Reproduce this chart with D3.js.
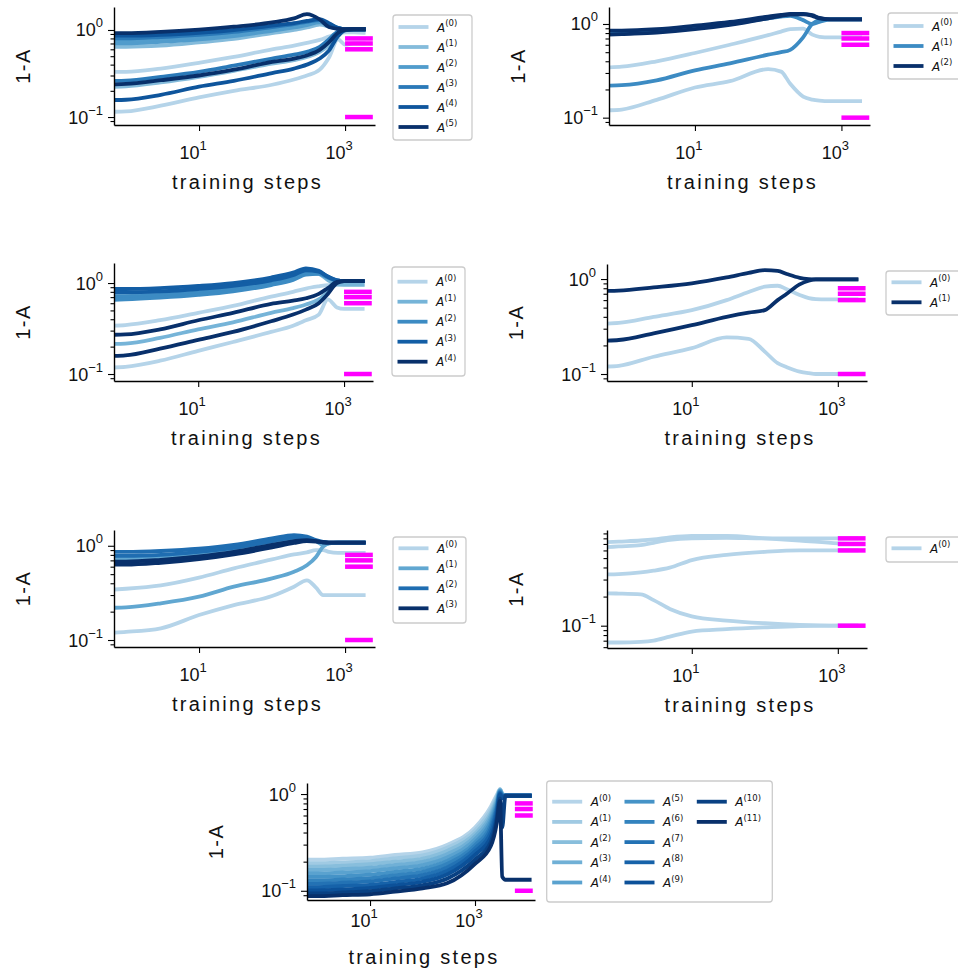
<!DOCTYPE html>
<html>
<head>
<meta charset="utf-8">
<script src="https://cdn.jsdelivr.net/npm/d3@7"></script>
<style>
  body { margin: 0; background: #fff; }
  svg text { font-family: "Liberation Sans", Arial, sans-serif; fill: #111; }
</style>
</head>
<body>
<svg width="958" height="975"></svg>
<script>
// target values (magenta marks) and their step span
const targets = [0.8, 0.7, 0.6, 0.1];
const targetSpan = [1000, 2400];
const targetSpan7 = [5750, 12600];
const xTicks = [10, 1000];

// step grids
const stepsA = [0.7, 1, 3, 10, 30, 100, 200, 300, 450, 600, 800, 1000, 1300, 1800];
const stepsB = [0.7, 1, 3, 10, 30, 100, 150, 200, 300, 400, 500, 700, 1000, 1800];
const stepsC = [0.7, 1, 3, 10, 30, 60, 100, 150, 200, 300, 400, 500, 700, 1000, 1800];
const stepsD = [0.7, 1, 3, 10, 30, 100, 200, 300, 400, 500, 600, 800, 1000, 1800];
const stepsE = [0.7, 1, 2, 3, 5, 10, 30, 100, 300, 1000, 1800];
const stepsF = [0.65, 1, 3, 10, 30, 100, 300, 1000, 2000, 2600, 3000, 3300, 3800, 5000, 11000];

// panel 1 (6 matrices)
const p1A0 = [[0.33, 0.33, 0.36, 0.42, 0.49, 0.60, 0.66, 0.71, 0.77, 0.84, 0.91, 0.94, 0.94, 0.93],
              [0.115, 0.116, 0.135, 0.168, 0.20, 0.235, 0.27, 0.30, 0.35, 0.48, 0.78, 0.68, 0.70, 0.70]];
const p1A1 = [[0.223, 0.225, 0.25, 0.29, 0.34, 0.41, 0.45, 0.49, 0.56, 0.67, 0.90, 1.0, 1.02, 1.02],
              [0.64, 0.64, 0.66, 0.72, 0.79, 0.92, 1.0, 1.07, 1.15, 1.10, 1.04, 1.02, 1.02, 1.02]];
const p1A2 = [[0.70, 0.70, 0.73, 0.78, 0.85, 0.98, 1.07, 1.14, 1.22, 1.14, 1.05, 1.02, 1.02, 1.02],
              [0.75, 0.75, 0.78, 0.83, 0.90, 1.03, 1.12, 1.20, 1.27, 1.16, 1.05, 1.02, 1.02, 1.02]];
const p1A3 = [[0.26, 0.262, 0.29, 0.33, 0.39, 0.47, 0.52, 0.56, 0.64, 0.78, 0.96, 1.01, 1.02, 1.02],
              [0.80, 0.80, 0.83, 0.88, 0.95, 1.08, 1.17, 1.24, 1.30, 1.18, 1.05, 1.02, 1.02, 1.02]];
const p1A4 = [[0.157, 0.158, 0.18, 0.223, 0.26, 0.32, 0.36, 0.40, 0.47, 0.58, 0.85, 0.99, 1.02, 1.02],
              [0.86, 0.86, 0.88, 0.93, 1.0, 1.12, 1.20, 1.27, 1.33, 1.20, 1.06, 1.02, 1.02, 1.02]];
const p1A5 = [[0.237, 0.24, 0.265, 0.30, 0.35, 0.43, 0.47, 0.51, 0.59, 0.72, 0.93, 1.0, 1.02, 1.02],
              [0.92, 0.92, 0.95, 1.01, 1.09, 1.22, 1.36, 1.52, 1.32, 1.08, 1.03, 1.02, 1.02, 1.02]];

// panel 2 (3 matrices)
const p2A0 = [[0.345, 0.35, 0.40, 0.49, 0.60, 0.76, 0.83, 0.88, 0.89, 0.77, 0.73, 0.72, 0.72, 0.72],
              [0.12, 0.122, 0.155, 0.21, 0.245, 0.33, 0.31, 0.23, 0.168, 0.156, 0.152, 0.15, 0.15, 0.15]];
const p2A1 = [[0.22, 0.222, 0.25, 0.32, 0.38, 0.47, 0.50, 0.53, 0.72, 1.0, 1.10, 1.12, 1.12, 1.12],
              [0.80, 0.80, 0.83, 0.90, 1.0, 1.15, 1.20, 1.22, 1.10, 1.0, 1.05, 1.12, 1.12, 1.12]];
const p2A2 = [[0.85, 0.85, 0.88, 0.96, 1.05, 1.20, 1.25, 1.28, 1.28, 1.22, 1.15, 1.12, 1.12, 1.12],
              [0.77, 0.78, 0.81, 0.88, 0.98, 1.15, 1.22, 1.26, 1.27, 1.24, 1.16, 1.12, 1.12, 1.12]];

// panel 3 (5 matrices)
const p3A0 = [[0.34, 0.345, 0.39, 0.47, 0.56, 0.71, 0.80, 0.87, 0.92, 0.95, 0.95, 0.95, 0.95, 0.95],
              [0.118, 0.12, 0.14, 0.18, 0.225, 0.29, 0.34, 0.39, 0.45, 0.66, 0.54, 0.52, 0.52, 0.52]];
const p3A1 = [[0.214, 0.216, 0.25, 0.31, 0.37, 0.47, 0.53, 0.58, 0.66, 0.80, 1.02, 1.05, 1.05, 1.05],
              [0.75, 0.75, 0.77, 0.82, 0.89, 1.03, 1.16, 1.30, 1.26, 1.08, 0.97, 0.96, 0.96, 0.96]];
const p3A2 = [[0.71, 0.71, 0.74, 0.79, 0.86, 1.0, 1.14, 1.30, 1.30, 1.16, 1.06, 1.05, 1.05, 1.05],
              [0.655, 0.66, 0.69, 0.74, 0.81, 0.95, 1.08, 1.24, 1.26, 1.15, 1.06, 1.05, 1.05, 1.05]];
const p3A3 = [[0.86, 0.86, 0.88, 0.93, 1.0, 1.15, 1.30, 1.45, 1.36, 1.18, 1.07, 1.05, 1.05, 1.05],
              [0.79, 0.79, 0.81, 0.86, 0.93, 1.07, 1.22, 1.38, 1.33, 1.17, 1.07, 1.05, 1.05, 1.05]];
const p3A4 = [[0.27, 0.272, 0.31, 0.39, 0.47, 0.59, 0.64, 0.68, 0.76, 0.88, 1.03, 1.05, 1.05, 1.05],
              [0.158, 0.16, 0.19, 0.237, 0.29, 0.38, 0.45, 0.51, 0.60, 0.76, 1.0, 1.05, 1.05, 1.05]];

// panel 4 (2 matrices)
const p4A0 = [[0.34, 0.345, 0.40, 0.47, 0.60, 0.73, 0.83, 0.85, 0.78, 0.68, 0.63, 0.615, 0.61, 0.61, 0.61],
              [0.12, 0.122, 0.152, 0.187, 0.243, 0.235, 0.172, 0.13, 0.118, 0.106, 0.102, 0.10, 0.10, 0.10, 0.10]];
const p4A1 = [[0.75, 0.755, 0.815, 0.90, 1.04, 1.16, 1.24, 1.22, 1.13, 1.03, 1.0, 0.99, 0.99, 0.99, 0.99],
              [0.225, 0.228, 0.268, 0.327, 0.40, 0.443, 0.47, 0.60, 0.70, 0.88, 0.96, 0.99, 0.99, 0.99, 0.99]];

// panel 5 (4 matrices)
const p5A0 = [[0.344, 0.35, 0.38, 0.46, 0.575, 0.716, 0.81, 0.85, 0.90, 0.90, 0.86, 0.84, 0.84, 0.84],
              [0.12, 0.122, 0.133, 0.184, 0.235, 0.293, 0.368, 0.43, 0.36, 0.30, 0.30, 0.30, 0.30, 0.30]];
const p5A1 = [[0.22, 0.222, 0.245, 0.288, 0.368, 0.45, 0.53, 0.62, 0.76, 0.98, 1.06, 1.08, 1.08, 1.08],
              [0.73, 0.73, 0.75, 0.80, 0.90, 1.08, 1.20, 1.22, 1.12, 1.02, 1.06, 1.08, 1.08, 1.08]];
const p5A2 = [[0.86, 0.86, 0.88, 0.93, 1.02, 1.20, 1.30, 1.25, 1.15, 1.10, 1.08, 1.08, 1.08, 1.08],
              [0.78, 0.78, 0.80, 0.86, 0.95, 1.12, 1.22, 1.20, 1.13, 1.09, 1.08, 1.08, 1.08, 1.08]];
const p5A3 = [[0.68, 0.68, 0.71, 0.77, 0.86, 1.02, 1.12, 1.15, 1.12, 1.09, 1.08, 1.08, 1.08, 1.08],
              [0.63, 0.63, 0.66, 0.72, 0.81, 0.96, 1.07, 1.12, 1.11, 1.09, 1.08, 1.08, 1.08, 1.08]];

// panel 6 (1 matrix, 5 values)
const p6A0 = [[0.73, 0.74, 0.76, 0.78, 0.82, 0.85, 0.85, 0.80, 0.76, 0.71, 0.70],
              [0.65, 0.66, 0.68, 0.72, 0.77, 0.80, 0.81, 0.80, 0.80, 0.80, 0.80],
              [0.34, 0.342, 0.355, 0.37, 0.398, 0.477, 0.54, 0.58, 0.60, 0.60, 0.60],
              [0.216, 0.215, 0.211, 0.184, 0.149, 0.125, 0.113, 0.106, 0.102, 0.10, 0.10],
              [0.067, 0.067, 0.068, 0.070, 0.077, 0.087, 0.092, 0.096, 0.099, 0.10, 0.10]];

// panel 7 (12 matrices)
const p7A0  = [[0.21, 0.21, 0.215, 0.22, 0.235, 0.25, 0.30, 0.45, 0.74, 0.98, 1.12, 1.02, 0.96, 0.96, 0.96]];
const p7A1  = [[0.193, 0.193, 0.197, 0.203, 0.217, 0.232, 0.28, 0.42, 0.69, 0.94, 1.12, 1.01, 0.96, 0.96, 0.96]];
const p7A2  = [[0.178, 0.178, 0.182, 0.188, 0.20, 0.215, 0.26, 0.39, 0.64, 0.90, 1.11, 1.0, 0.96, 0.96, 0.96]];
const p7A3  = [[0.164, 0.164, 0.168, 0.173, 0.185, 0.199, 0.24, 0.365, 0.60, 0.86, 1.10, 0.99, 0.96, 0.96, 0.96]];
const p7A4  = [[0.151, 0.151, 0.155, 0.16, 0.171, 0.184, 0.222, 0.34, 0.56, 0.82, 1.09, 0.99, 0.96, 0.96, 0.96]];
const p7A5  = [[0.139, 0.139, 0.142, 0.147, 0.157, 0.17, 0.205, 0.315, 0.52, 0.78, 1.08, 0.98, 0.96, 0.96, 0.96]];
const p7A6  = [[0.128, 0.128, 0.131, 0.135, 0.145, 0.157, 0.19, 0.295, 0.48, 0.74, 1.06, 0.97, 0.96, 0.96, 0.96]];
const p7A7  = [[0.118, 0.118, 0.121, 0.125, 0.134, 0.145, 0.175, 0.275, 0.44, 0.70, 1.04, 0.96, 0.96, 0.96, 0.96]];
const p7A8  = [[0.109, 0.109, 0.112, 0.115, 0.123, 0.134, 0.161, 0.255, 0.40, 0.66, 1.02, 0.95, 0.96, 0.96, 0.96]];
const p7A9  = [[0.101, 0.101, 0.103, 0.107, 0.114, 0.124, 0.148, 0.235, 0.36, 0.60, 1.0, 0.90, 0.96, 0.96, 0.96]];
const p7A10 = [[0.094, 0.094, 0.096, 0.099, 0.106, 0.114, 0.134, 0.21, 0.32, 0.55, 0.90, 0.45, 0.96, 0.96, 0.96]];
const p7A11 = [[0.088, 0.088, 0.09, 0.092, 0.098, 0.106, 0.12, 0.19, 0.29, 0.50, 0.85, 0.14, 0.13, 0.13, 0.13]];

// layout of each axes box
const panels = [
  {l: 114, r: 375, t: 7, b: 125, xd: [0.685, 2570], yd: [0.081, 1.837], steps: stepsA,
   series: [p1A0, p1A1, p1A2, p1A3, p1A4, p1A5], span: targetSpan,
   legend: {x: 393, y: 15, w: 79, h: 125, row0: 27, dy: 20, perCol: 6, colW: 0}, tickOff: 34},
  {l: 609, r: 870, t: 7, b: 125, xd: [0.671, 2455], yd: [0.0835, 1.518], steps: stepsB,
   series: [p2A0, p2A1, p2A2], span: targetSpan,
   legend: {x: 888, y: 13, w: 80, h: 66, row0: 26, dy: 20, perCol: 6, colW: 0}, tickOff: 34},
  {l: 114, r: 373, t: 263, b: 381, xd: [0.7, 2495], yd: [0.0838, 1.66], steps: stepsA,
   series: [p3A0, p3A1, p3A2, p3A3, p3A4], span: targetSpan,
   legend: {x: 392, y: 267, w: 73, h: 109, row0: 281.7, dy: 20, perCol: 6, colW: 0}, tickOff: 34},
  {l: 607, r: 867, t: 264, b: 381, xd: [0.69, 2510], yd: [0.0844, 1.44], steps: stepsC,
   series: [p4A0, p4A1], span: targetSpan,
   legend: {x: 886, y: 271, w: 80, h: 44, row0: 282.3, dy: 20, perCol: 6, colW: 0}, tickOff: 34},
  {l: 114, r: 375, t: 530, b: 647, xd: [0.685, 2570], yd: [0.0843, 1.47], steps: stepsD,
   series: [p5A0, p5A1, p5A2, p5A3], span: targetSpan,
   legend: {x: 393, y: 537, w: 73, h: 86, row0: 548.3, dy: 20, perCol: 6, colW: 0}, tickOff: 34},
  {l: 607, r: 867, t: 530, b: 648, xd: [0.69, 2510], yd: [0.0588, 0.976], steps: stepsE,
   series: [p6A0], span: targetSpan,
   legend: {x: 886, y: 537, w: 80, h: 25, row0: 548.3, dy: 20, perCol: 6, colW: 0}, tickOff: 34},
  {l: 307, r: 535, t: 783, b: 900, xd: [0.63, 13900], yd: [0.0803, 1.30], steps: stepsF,
   series: [p7A0, p7A1, p7A2, p7A3, p7A4, p7A5, p7A6, p7A7, p7A8, p7A9, p7A10, p7A11], span: targetSpan7,
   legend: {x: 546.7, y: 781, w: 225.6, h: 121, row0: 801.7, dy: 20.2, perCol: 5, colW: 72.3}, tickOff: 27}
];

const svg = d3.select("svg");
const blue = (k, n) => d3.interpolateBlues(n === 1 ? 0.3 : 0.3 + 0.7 * k / (n - 1));
const supExp = e => (e < 0 ? "\u2212" : "") + Math.abs(e);

panels.forEach((p, pi) => {
  const x = d3.scaleLog().domain(p.xd).range([p.l, p.r]);
  const y = d3.scaleLog().domain(p.yd).range([p.b, p.t]);
  const g = svg.append("g");

  g.append("clipPath").attr("id", "clip" + pi)
    .append("rect").attr("x", p.l).attr("y", p.t).attr("width", p.r - p.l).attr("height", p.b - p.t);

  const line = d3.line()
    .x((d, i) => x(p.steps[i]))
    .y(d => y(d))
    .curve(d3.curveMonotoneX);

  const lines = g.append("g").attr("clip-path", `url(#clip${pi})`);
  const n = p.series.length;
  p.series.forEach((curves, k) => {
    curves.forEach(c => {
      lines.append("path")
        .attr("d", line(c))
        .attr("fill", "none")
        .attr("stroke", blue(k, n))
        .attr("stroke-width", 3.8)
        .attr("stroke-linejoin", "round")
        .attr("stroke-linecap", "square");
    });
  });

  // target marks
  targets.forEach(v => {
    g.append("line")
      .attr("x1", x(p.span[0])).attr("x2", x(p.span[1]))
      .attr("y1", y(v)).attr("y2", y(v))
      .attr("stroke", "#ff00ff").attr("stroke-width", 4.5);
  });

  // y ticks (major + minor)
  const yMajor = [], yMinor = [];
  for (let e = Math.floor(Math.log10(p.yd[0])); e <= Math.ceil(Math.log10(p.yd[1])); e++) {
    for (let m = 1; m <= 9; m++) {
      const v = m * Math.pow(10, e);
      if (v >= p.yd[0] && v <= p.yd[1]) (m === 1 ? yMajor : yMinor).push(v);
    }
  }

  g.append("g").attr("transform", `translate(${p.l},0)`)
    .call(d3.axisLeft(y).tickValues(yMinor).tickSize(3.5).tickFormat(""))
    .call(a => a.select(".domain").remove())
    .call(a => a.selectAll("line").attr("stroke", "#000").attr("stroke-width", 1.1));
  g.append("g").attr("transform", `translate(${p.l},0)`)
    .call(d3.axisLeft(y).tickValues(yMajor).tickSize(6).tickSizeOuter(0).tickFormat(""))
    .call(a => a.select(".domain").attr("stroke", "#000").attr("stroke-width", 1.4))
    .call(a => a.selectAll("line").attr("stroke", "#000").attr("stroke-width", 1.1));

  yMajor.forEach(v => {
    const t = g.append("text")
      .attr("x", p.l - 11).attr("y", y(v) + 6.5)
      .attr("text-anchor", "end").attr("font-size", 18);
    t.append("tspan").text("10");
    t.append("tspan").attr("dy", -9).attr("font-size", 13).text(supExp(Math.round(Math.log10(v))));
  });

  // x ticks
  g.append("g").attr("transform", `translate(0,${p.b})`)
    .call(d3.axisBottom(x).tickValues(xTicks).tickSize(6).tickSizeOuter(0).tickFormat(""))
    .call(a => a.select(".domain").attr("stroke", "#000").attr("stroke-width", 1.4))
    .call(a => a.selectAll("line").attr("stroke", "#000").attr("stroke-width", 1.1));

  xTicks.forEach(v => {
    const t = g.append("text")
      .attr("x", x(v) - 6).attr("y", p.b + p.tickOff)
      .attr("text-anchor", "middle").attr("font-size", 18);
    t.append("tspan").text("10");
    t.append("tspan").attr("dy", -9).attr("font-size", 13).text(supExp(Math.round(Math.log10(v))));
  });

  // axis titles
  g.append("text")
    .attr("x", (p.l + p.r) / 2 + 3).attr("y", p.b + 64)
    .attr("text-anchor", "middle").attr("font-size", 20).attr("letter-spacing", 2.3)
    .text("training steps");
  g.append("text")
    .attr("transform", `translate(${p.l - 84},${(p.t + p.b) / 2}) rotate(-90)`)
    .attr("text-anchor", "middle").attr("font-size", 20).attr("letter-spacing", 1.5)
    .text("1-A");

  // legend
  const L = p.legend;
  const lg = svg.append("g");
  lg.append("rect")
    .attr("x", L.x).attr("y", L.y).attr("width", L.w).attr("height", L.h).attr("rx", 3)
    .attr("fill", "#fff").attr("fill-opacity", 0.8)
    .attr("stroke", "#cccccc").attr("stroke-width", 1.3);
  p.series.forEach((s, k) => {
    const col = Math.floor(k / L.perCol), row = k % L.perCol;
    const x0 = L.x + 5.5 + col * L.colW;
    const yy = L.row0 + row * L.dy;
    lg.append("line")
      .attr("x1", x0).attr("x2", x0 + 30).attr("y1", yy).attr("y2", yy)
      .attr("stroke", blue(k, n)).attr("stroke-width", 3.8);
    const t = lg.append("text")
      .attr("x", x0 + 38.5).attr("y", yy + 4.5)
      .attr("font-size", 12).style("font-family", "'DejaVu Sans', sans-serif");
    t.append("tspan").attr("font-style", "italic").text("A");
    t.append("tspan").attr("dy", -5.5).attr("font-size", 8.5).text(`(${k})`);
  });
});
</script>
</body>
</html>
